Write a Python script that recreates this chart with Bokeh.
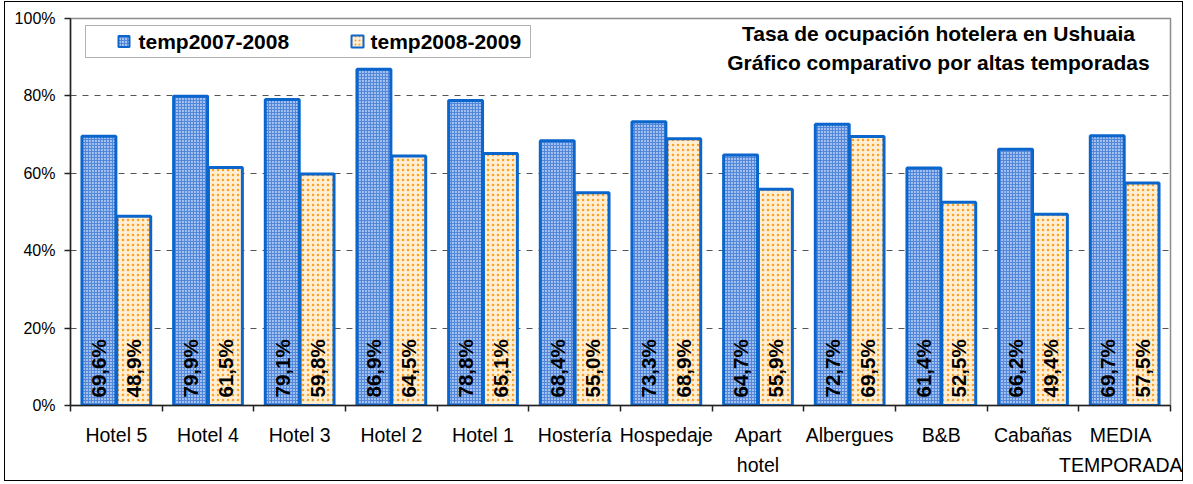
from math import pi
from bokeh.plotting import figure
from bokeh.models import (Range1d, FixedTicker, NumeralTickFormatter, ColumnDataSource,
                          BoxAnnotation, Label)
from bokeh.core.properties import value
from bokeh.embed import file_html
from bokeh.resources import INLINE

# ---------------- data ----------------
categories = ["Hotel 5", "Hotel 4", "Hotel 3", "Hotel 2", "Hotel 1", "Hostería", "Hospedaje",
              "Apart\nhotel", "Albergues", "B&B", "Cabañas", "MEDIA\nTEMPORADA"]
temp_2007_2008 = [69.6, 79.9, 79.1, 86.9, 78.8, 68.4, 73.3, 64.7, 72.7, 61.4, 66.2, 69.7]
temp_2008_2009 = [48.9, 61.5, 59.8, 64.5, 65.1, 55.0, 68.9, 55.9, 69.5, 52.5, 49.4, 57.5]
series_names = ["temp2007-2008", "temp2008-2009"]
y_ticks = [0, 0.2, 0.4, 0.6, 0.8, 1.0]
title_lines = ["Tasa de ocupación hotelera en Ushuaia",
               "Gráfico comparativo por altas temporadas"]

# ---------------- geometry ----------------
OX, OY = 5, 2                             # page position of figure content
W, H = 1179, 480
FL, FT = 70 - OX, 18 - OY
FR = OX + W - 1170
FB = OY + H - 405
N = len(categories)
PX = 1100 / N                             # px per category


def dx(px):  # page x (reference pixels) -> data x
    return (px - 70) / PX


def dy(py):  # page y (reference pixels) -> data y
    return (405 - py) / 387


FONT = "Liberation Sans"
BLUE_LINE = "#0a66cc"
BLUE_FILL, BLUE_HATCH = "#a6c3ef", "#5287da"
ORANGE_FILL, ORANGE_HATCH = "#ffeed2", "#ffa024"

p = figure(width=W, height=H, output_backend="svg", toolbar_location=None,
           x_range=Range1d(0, N), y_range=Range1d(0, 1),
           min_border_left=FL, min_border_right=FR, min_border_top=FT, min_border_bottom=FB)
p.styles = {"border": "1px solid #000000", "margin-left": f"{OX - 1}px",
            "margin-top": f"{OY - 1}px"}
p.outline_line_color = "#8c8c8c"
p.outline_line_width = 1.5

centers = [i + 0.5 for i in range(N)]
off = 0.19
bw = 0.37

src = ColumnDataSource(dict(
    xa=[c - off for c in centers], xb=[c + off for c in centers],
    a=[v / 100 for v in temp_2007_2008], b=[v / 100 for v in temp_2008_2009],
    la=[f"{v:.1f}%".replace(".", ",") for v in temp_2007_2008],
    lb=[f"{v:.1f}%".replace(".", ",") for v in temp_2008_2009],
))

p.vbar(x="xa", top="a", width=bw, source=src, fill_color=BLUE_FILL,
       hatch_pattern="+", hatch_color=BLUE_HATCH, hatch_scale=3, hatch_weight=1.2,
       line_color=BLUE_LINE, line_width=3)
p.vbar(x="xb", top="b", width=bw, source=src, fill_color=ORANGE_FILL,
       hatch_pattern=".", hatch_color=ORANGE_HATCH, hatch_scale=5, hatch_weight=2.8,
       line_color=BLUE_LINE, line_width=3)

label_y = 8 / 387
for xcol, tcol in (("xa", "la"), ("xb", "lb")):
    p.text(x=xcol, y=label_y, text=tcol, source=src, angle=pi / 2,
           text_align="left", text_baseline="middle",
           text_font=value(FONT), text_font_style="bold", text_font_size="20.5px",
           text_color="black")

# axes
p.xaxis.ticker = FixedTicker(ticks=centers, minor_ticks=list(range(N + 1)))
p.xaxis.major_label_overrides = {c: lab for c, lab in zip(centers, categories)}
p.xaxis.major_tick_out = 0
p.xaxis.major_tick_in = 0
p.xaxis.minor_tick_out = 6
p.xaxis.minor_tick_in = 0
p.xaxis.minor_tick_line_color = "#222222"
p.xaxis.minor_tick_line_width = 1.5
p.xaxis.major_label_standoff = 12
p.xaxis.major_label_text_font = FONT
p.xaxis.major_label_text_font_size = "19.5px"
p.xaxis.major_label_text_color = "black"
p.xaxis.major_label_text_line_height = 1.4
p.xaxis.axis_line_color = "#222222"
p.xaxis.axis_line_width = 1.5

p.yaxis.ticker = FixedTicker(ticks=y_ticks)
p.yaxis.formatter = NumeralTickFormatter(format="0%")
p.yaxis.minor_tick_line_color = None
p.yaxis.major_tick_out = 6
p.yaxis.major_tick_in = 0
p.yaxis.major_tick_line_color = "#222222"
p.yaxis.major_tick_line_width = 1.5
p.yaxis.major_label_standoff = 9
p.yaxis.major_label_text_font = FONT
p.yaxis.major_label_text_font_size = "16px"
p.yaxis.major_label_text_color = "black"
p.yaxis.axis_line_color = "#222222"
p.yaxis.axis_line_width = 1.5

p.xgrid.grid_line_color = None
p.ygrid.ticker = FixedTicker(ticks=[0.2, 0.4, 0.6, 0.8])
p.ygrid.grid_line_color = "#555555"
p.ygrid.grid_line_dash = "6 6"
p.ygrid.grid_line_width = 1

# legend (manual)
p.add_layout(BoxAnnotation(left=dx(85), right=dx(530), top=dy(25), bottom=dy(57),
                           fill_alpha=0, line_color="black", line_width=1))
p.scatter(x=[dx(123.5)], y=[dy(41)], marker="square", size=11, fill_color=BLUE_FILL,
          hatch_pattern="+", hatch_color=BLUE_HATCH, hatch_scale=3,
          line_color=BLUE_LINE, line_width=2)
p.scatter(x=[dx(357)], y=[dy(41)], marker="square", size=12, fill_color=ORANGE_FILL,
          hatch_pattern=".", hatch_color=ORANGE_HATCH, hatch_scale=4, hatch_weight=2,
          line_color=BLUE_LINE, line_width=2)
for xpx, name in ((138, series_names[0]), (370, series_names[1])):
    p.add_layout(Label(x=dx(xpx), y=dy(41), text=name, text_baseline="middle",
                       text_align="left", text_font=FONT, text_font_style="bold",
                       text_font_size="21px", text_color="black"))

# title (inside plot area, top right)
for ypx, line in ((33, title_lines[0]), (62, title_lines[1])):
    p.add_layout(Label(x=dx(938), y=dy(ypx), text=line, text_baseline="middle",
                       text_align="center", text_font=FONT, text_font_style="bold",
                       text_font_size="21px", text_color="black"))

open("out.html", "w").write(file_html(p, INLINE))
